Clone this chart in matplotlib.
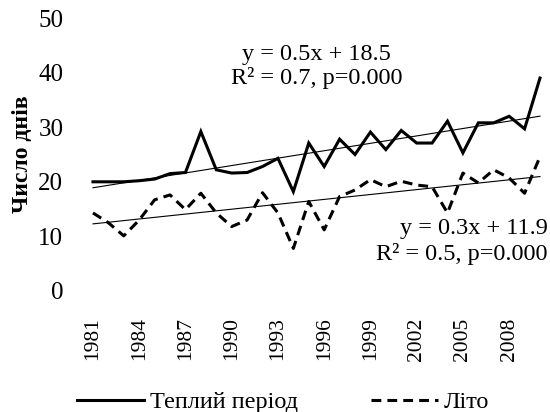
import numpy as np
import matplotlib
matplotlib.use("Agg")
import matplotlib.pyplot as plt
from matplotlib.lines import Line2D

plt.rcParams["font.family"] = ["Liberation Serif", "DejaVu Serif"]

years = list(range(1981, 2011))
warm_period = [20.0, 20.0, 20.0, 20.2, 20.5, 21.5, 21.7, 29.2, 22.2, 21.6,
               21.7, 22.8, 24.3, 18.2, 27.1, 22.8, 27.8, 25.0, 29.1, 25.9,
               29.4, 27.1, 27.1, 31.1, 25.3, 30.8, 30.8, 32.0, 29.7, 39.0]
summer = [14.3, 12.5, 10.1, 13.0, 16.7, 17.6, 14.9, 17.9, 14.3, 11.8,
          13.0, 18.0, 14.3, 7.8, 16.4, 11.2, 17.3, 18.5, 20.4, 19.1,
          20.1, 19.4, 19.1, 14.3, 21.6, 19.8, 22.2, 20.7, 17.9, 24.6]
tick_years = list(range(1981, 2009, 3))
eq_warm = "y = 0.5x + 18.5\nR² = 0.7, p=0.000"
eq_summer = "y = 0.3x + 11.9\nR² = 0.5, p=0.000"

DASH = (0, (3.2, 2.0))

fig = plt.figure(figsize=(5.5, 4.12), dpi=100)
ax = fig.add_axes([80 / 550, 0.2937, 468 / 550, 0.6626])

ax.plot(years, warm_period, color="black", lw=2.2, solid_joinstyle="miter")
ax.plot(years, summer, color="black", lw=2.2, linestyle=DASH)

# linear trends
x = np.arange(1, len(years) + 1)
for series in (warm_period, summer):
    k, b = np.polyfit(x, series, 1)
    ax.plot(years, k * x + b, color="black", lw=0.8)

ax.text(1995.5, 45.3, eq_warm, ha="center", va="top", fontsize=17.5,
        linespacing=1.15)
ax.text(2010.5, 13.3, eq_summer, ha="right", va="top", fontsize=17.5,
        linespacing=1.2)

ax.set_xlim(1980.16, 2010.52)
ax.set_ylim(0, 50)
ax.set_yticks(range(0, 51, 10))
ax.set_xticks(tick_years)
ax.set_xticklabels([str(y) for y in tick_years], rotation=90, fontsize=15.5)
ax.tick_params(axis="y", labelsize=18, length=0, pad=12)
ax.tick_params(axis="x", length=0, pad=19)
for s in ax.spines.values():
    s.set_visible(False)
ax.set_ylabel("Число днів", fontsize=17, fontweight="bold", labelpad=4)

handles = [Line2D([], [], color="black", lw=2.2),
           Line2D([], [], color="black", lw=2.2, linestyle=DASH)]
fig.legend(handles, ["Теплий період", "Літо"], loc="center",
           bbox_to_anchor=(0.515, 0.024), ncol=2, frameon=False,
           fontsize=17.5, handlelength=2.75, handletextpad=0.25,
           columnspacing=3.0)

fig.savefig("out.png", facecolor="white")
